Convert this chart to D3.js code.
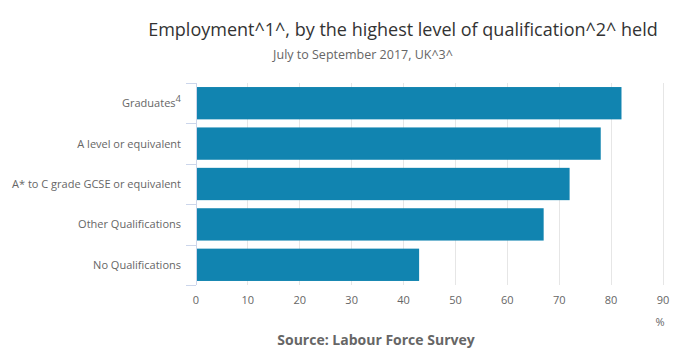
<!DOCTYPE html>
<html><head><meta charset="utf-8">
<script src="https://cdn.jsdelivr.net/npm/d3@7/dist/d3.min.js"></script>
<style>body{margin:0;background:#fff;} svg{display:block;font-family:"Open Sans",sans-serif;}</style>
</head><body>
<svg id="c" width="700" height="360"></svg>
<script>
const categories = ["Graduates", "A level or equivalent", "A* to C grade GCSE or equivalent", "Other Qualifications", "No Qualifications"];
const values = [82, 78, 72, 67, 43];
const xTicks = [0, 10, 20, 30, 40, 50, 60, 70, 80, 90];

const svg = d3.select("#c");
const m = {left: 196, right: 663, top: 83, bottom: 285};
const x = d3.scaleLinear().domain([0, 90]).range([m.left, m.right]);
const y = d3.scaleBand().domain(categories).range([m.top, m.bottom]).paddingInner(0.2).paddingOuter(0.1);

// gridlines
svg.append("g").selectAll("line").data(xTicks.filter(d => d > 0)).join("line")
  .attr("x1", d => x(d)).attr("x2", d => x(d))
  .attr("y1", m.top).attr("y2", m.bottom)
  .attr("stroke", "#e6e6e6").attr("stroke-width", 1).attr("shape-rendering", "crispEdges");

// bars
svg.append("g").selectAll("rect").data(values).join("rect")
  .attr("x", x(0)).attr("y", (d, i) => y(categories[i]))
  .attr("width", d => x(d) - x(0)).attr("height", y.bandwidth())
  .attr("fill", "#1184b0");

// category axis line
svg.append("line").attr("x1", m.left + 0.5).attr("x2", m.left + 0.5)
  .attr("y1", m.top).attr("y2", m.bottom).attr("stroke", "#ccd6eb");
// tick marks at band boundaries
const bounds = d3.range(categories.length + 1).map(i => m.top + (m.bottom - m.top) * i / categories.length);
svg.append("g").selectAll("line").data(bounds).join("line")
  .attr("x1", m.left - 10).attr("x2", m.left)
  .attr("y1", d => Math.round(d) + 0.5).attr("y2", d => Math.round(d) + 0.5)
  .attr("stroke", "#ccd6eb");

// category labels
const lbl = svg.append("g").selectAll("text").data(categories).join("text")
  .attr("x", 181).attr("y", d => y(d) + y.bandwidth() / 2 + 4)
  .attr("text-anchor", "end").attr("font-size", 11).attr("fill", "#666");
lbl.each(function(d) {
  const t = d3.select(this);
  t.append("tspan").text(d);
  if (d === "Graduates") t.append("tspan").attr("dy", -5).attr("font-size", 9.5).text("4");
});

// x tick labels
svg.append("g").selectAll("text").data(xTicks).join("text")
  .attr("x", d => x(d)).attr("y", 304)
  .attr("text-anchor", "middle").attr("font-size", 11).attr("fill", "#666")
  .text(d => d);

svg.append("text").attr("x", x(90) - 3).attr("y", 326).attr("text-anchor", "middle")
  .attr("font-size", 11).attr("fill", "#666").text("%");

svg.append("text").attr("x", 403).attr("y", 36).attr("text-anchor", "middle")
  .attr("font-size", 18).attr("fill", "#333").text("Employment^1^, by the highest level of qualification^2^ held");
svg.append("text").attr("x", 363).attr("y", 59).attr("text-anchor", "middle")
  .attr("font-size", 12.5).attr("fill", "#666").text("July to September 2017, UK^3^");
svg.append("text").attr("x", 376).attr("y", 345).attr("text-anchor", "middle")
  .attr("font-size", 14).attr("font-weight", "bold").attr("fill", "#666").text("Source: Labour Force Survey");
</script>
</body></html>
